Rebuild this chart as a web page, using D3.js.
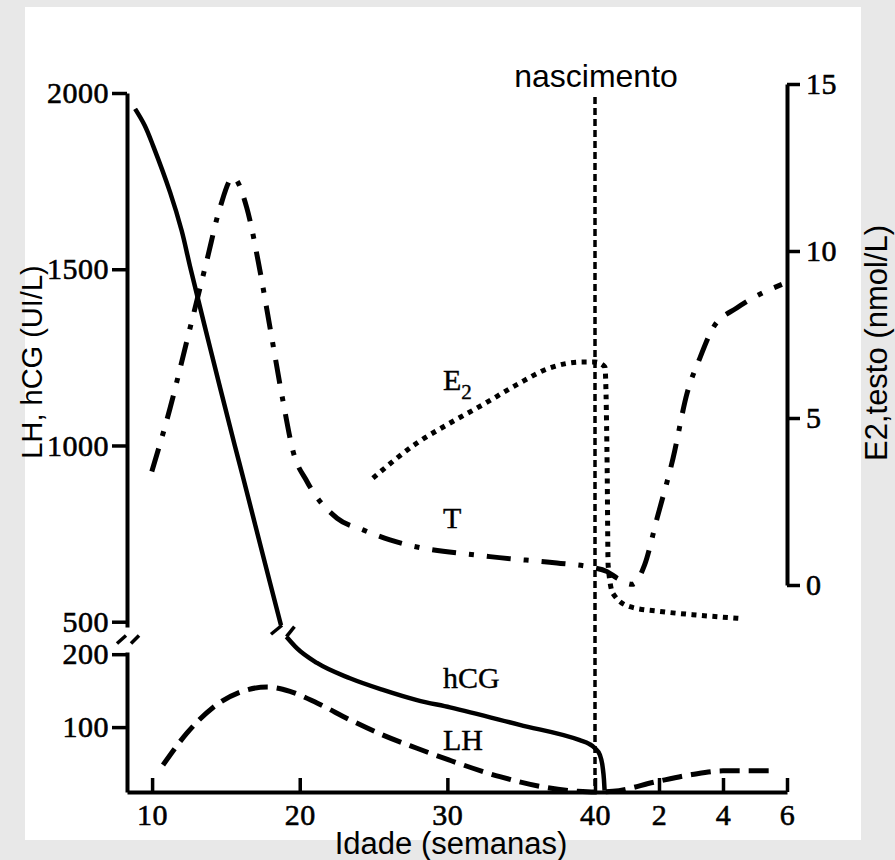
<!DOCTYPE html>
<html>
<head>
<meta charset="utf-8">
<script src="https://cdn.jsdelivr.net/npm/d3@7"></script>
<style>
  body { margin: 0; background: #e8e8e8; }
  .axis text { font-family: "Liberation Serif", "Times New Roman", serif; font-size: 30px; fill: #000; stroke: #000; stroke-width: 0.6px; letter-spacing: 0.5px; }
  .axis path, .axis line { stroke: #000; }
</style>
</head>
<body>
<svg id="chart" width="895" height="860"></svg>
<script>
// x in weeks of gestation, past 40 = weeks after birth (40 + n)
var xTicks = [10, 20, 30, 40, 42, 44, 46];
var upTicks = [500, 1000, 1500, 2000];
var lowTicks = [100, 200];
var rightTicks = [0, 5, 10, 15];

// hCG, upper part of left axis (UI/L)
var hcgUpWeeks = [8.85, 9.5, 10.07, 11.22, 12.0, 12.57, 14.0, 15.6, 16.16, 17.5, 18.73];
var hcgUpValues = [1955, 1908, 1850, 1718, 1610, 1508, 1265, 1000, 910, 690, 490];
// hCG, lower part of left axis
var hcgLowWeeks = [19.1, 19.82, 21.17, 23.4, 25.64, 27.94, 30.18, 34.9, 38.97, 39.6, 40.0, 40.15, 40.24, 40.28, 40.3];
var hcgLowValues = [224, 208, 188, 167, 151, 137, 127, 103, 82, 77, 71, 62, 45, 28, 13];
// LH, lower part of left axis
var lhWeeks = [10.74, 12.37, 14.13, 15.96, 17.79, 19.34, 21.17, 23.4, 25.64, 27.94, 30.1, 33.56, 36.74, 38.83, 40.0, 40.56, 41.9, 43.03, 44.0, 45.65];
var lhValues = [48, 92, 127, 148, 155, 149, 133, 110, 89, 71, 55, 32, 17, 12, 11, 12, 25, 35, 40, 40];
// testosterone, right axis (nmol/L)
var tWeeks = [9.98, 11.22, 12.35, 13.7, 14.6, 15.48, 16.41, 17.31, 17.99, 18.87, 19.55, 20.49, 22.53, 24.29, 26.11, 32.88, 37.42, 39.65, 40.38, 40.7, 41.16, 41.55, 41.94, 42.44, 42.88, 43.28, 43.69, 44.44, 45.25, 45.84];
var tValues = [3.4, 5.3, 7.3, 9.7, 11.3, 12.2, 11.3, 9.4, 7.7, 5.5, 4.0, 3.1, 2.0, 1.65, 1.35, 0.85, 0.66, 0.54, 0.4, 0.2, 0.02, 0.6, 2.0, 3.8, 5.75, 6.8, 7.7, 8.3, 8.75, 9.0];
// estradiol, right axis
var e2Weeks = [24.96, 27.94, 30.18, 32.41, 34.71, 36.95, 39.19, 40.0, 40.31, 40.38, 40.41, 40.56, 41.09, 42.12, 43.19, 44.53];
var e2Values = [3.2, 4.25, 4.85, 5.4, 6.0, 6.5, 6.68, 6.68, 6.53, 3.5, 0.6, -0.25, -0.65, -0.8, -0.9, -1.0];

function zip(a, b) {
  return a.map(function (d, i) { return [d, b[i]]; });
}

var svg = d3.select("#chart");

svg.append("rect").attr("width", 895).attr("height", 860).attr("fill", "#e8e8e8");
svg.append("rect").attr("x", 25).attr("y", 7).attr("width", 836).attr("height", 833).attr("fill", "#fff");

var x = d3.scaleLinear().domain([8.3, 40, 46]).range([127, 595, 787]);
var yUp = d3.scaleLinear().domain([485, 2000]).range([627, 93]);
var yLow = d3.scaleLinear().domain([11, 203]).range([792, 652]);
var yRight = d3.scaleLinear().domain([0, 15]).range([585, 84]);

var plain = d3.format("d");

// axes
svg.append("g")
  .attr("class", "axis")
  .attr("transform", "translate(0," + yLow(11) + ")")
  .call(d3.axisBottom(x).tickValues(xTicks).tickSize(-14).tickSizeOuter(0).tickPadding(12)
    .tickFormat(function (d) { return d > 40 ? d - 40 : d; }));

svg.append("g")
  .attr("class", "axis")
  .attr("transform", "translate(" + x(8.3) + ",0)")
  .call(d3.axisLeft(yUp).tickValues(upTicks).tickFormat(plain).tickSize(15).tickSizeOuter(0).tickPadding(3));

svg.append("g")
  .attr("class", "axis")
  .attr("transform", "translate(" + x(8.3) + ",0)")
  .call(d3.axisLeft(yLow).tickValues(lowTicks).tickFormat(plain).tickSize(15).tickSizeOuter(0).tickPadding(3));

svg.append("g")
  .attr("class", "axis")
  .attr("transform", "translate(" + x(46) + ",0)")
  .call(d3.axisRight(yRight).tickValues(rightTicks).tickFormat(plain).tickSize(13).tickSizeOuter(0).tickPadding(6));

svg.selectAll(".axis path").attr("stroke-width", 4);
svg.selectAll(".axis line").attr("stroke-width", 3.5);

// break marks on left axis
var ax = x(8.3), by = (yUp(485) + yLow(203)) / 2;
[[-10, -1], [4, 12]].forEach(function (o) {
  svg.append("line")
    .attr("x1", ax + o[0]).attr("y1", by + 4)
    .attr("x2", ax + o[1]).attr("y2", by - 4)
    .attr("stroke", "#000").attr("stroke-width", 3.5);
});

// birth line
svg.append("line")
  .attr("x1", x(40)).attr("x2", x(40))
  .attr("y1", 97).attr("y2", yLow(11))
  .attr("stroke", "#000").attr("stroke-width", 3.5)
  .attr("stroke-dasharray", "7,4");

function curve(yScale, c) {
  return d3.line()
    .x(function (d) { return x(d[0]); })
    .y(function (d) { return yScale(d[1]); })
    .curve(c || d3.curveMonotoneX);
}

var hcgUp = zip(hcgUpWeeks, hcgUpValues);
var hcgLow = zip(hcgLowWeeks, hcgLowValues);

svg.append("path").attr("d", curve(yUp, d3.curveCatmullRom)(hcgUp))
  .attr("fill", "none").attr("stroke", "#000").attr("stroke-width", 4.5);
svg.append("path").attr("d", curve(yLow)(hcgLow))
  .attr("fill", "none").attr("stroke", "#000").attr("stroke-width", 4.5);

// break marks on hCG
var e = hcgUp[hcgUp.length - 1], s = hcgLow[0];
svg.append("line")
  .attr("x1", x(e[0]) - 10).attr("y1", yUp(e[1]) + 9)
  .attr("x2", x(e[0]) + 1).attr("y2", yUp(e[1]))
  .attr("stroke", "#000").attr("stroke-width", 3.5);
svg.append("line")
  .attr("x1", x(s[0])).attr("y1", yLow(s[1]))
  .attr("x2", x(s[0]) + 8).attr("y2", yLow(s[1]) - 10)
  .attr("stroke", "#000").attr("stroke-width", 3.5);

svg.append("path").attr("d", curve(yLow)(zip(lhWeeks, lhValues)))
  .attr("fill", "none").attr("stroke", "#000").attr("stroke-width", 5)
  .attr("stroke-dasharray", "20,9");

svg.append("path").attr("d", curve(yRight)(zip(tWeeks, tValues)))
  .attr("fill", "none").attr("stroke", "#000").attr("stroke-width", 5)
  .attr("stroke-dasharray", "24,13,5,13");

svg.append("path").attr("d", curve(yRight)(zip(e2Weeks, e2Values)))
  .attr("fill", "none").attr("stroke", "#000").attr("stroke-width", 5)
  .attr("stroke-dasharray", "5,5.5");

// curve labels
var serif = "'Liberation Serif', 'Times New Roman', serif";
var sans = "'Liberation Sans', Arial, sans-serif";

function label(xp, yp, txt) {
  return svg.append("text").attr("x", xp).attr("y", yp)
    .attr("font-family", serif).attr("font-size", 30)
    .attr("stroke", "#000").attr("stroke-width", 0.4)
    .text(txt);
}

var e2Label = label(443, 390, "E");
e2Label.append("tspan").attr("font-size", 21).attr("dy", 9).text("2");
label(443, 528, "T");
label(443, 688, "hCG");
label(443, 750, "LH");

// titles
svg.append("text").attr("x", 596).attr("y", 87)
  .attr("text-anchor", "middle").attr("font-family", sans).attr("font-size", 32)
  .text("nascimento");

svg.append("text").attr("x", 451).attr("y", 854)
  .attr("text-anchor", "middle").attr("font-family", sans).attr("font-size", 31)
  .text("Idade (semanas)");

svg.append("text")
  .attr("transform", "translate(42,362) rotate(-90)")
  .attr("text-anchor", "middle").attr("font-family", sans).attr("font-size", 29)
  .text("LH, hCG (UI/L)");

svg.append("text")
  .attr("transform", "translate(887,343) rotate(-90)")
  .attr("text-anchor", "middle").attr("font-family", sans).attr("font-size", 31)
  .text("E2,testo (nmol/L)");
</script>
</body>
</html>
